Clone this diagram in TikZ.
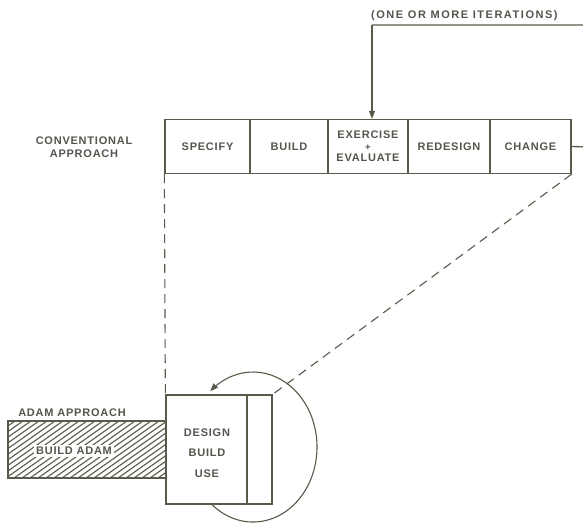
\documentclass[tikz,border=0pt]{standalone}
\usepackage{fontspec}
\setmainfont{Liberation Sans}[LetterSpace=7]
\newfontfamily\widefont{Liberation Sans}[LetterSpace=14]
\usetikzlibrary{arrows.meta}
\definecolor{ink}{HTML}{5A5A4A}
\definecolor{txt}{HTML}{55554D}
\tikzset{
  lbl/.style={font=\bfseries\fontsize{11}{12.5}\selectfont, text=txt, inner sep=0pt, align=center},
  stage/.style={lbl, draw=ink, line width=1.3pt, minimum height=54pt},
  plain/.style={draw=ink, line width=1.3pt},
  dashline/.style={draw=ink, line width=1.1pt, dash pattern=on 9pt off 6pt},
  tip/.style={-{Triangle[width=6pt,length=8pt]}}
}
\begin{document}
\begin{tikzpicture}[x=1pt,y=-1pt]
\useasboundingbox (0,0) rectangle (583,523);
\clip (0,0) rectangle (583,523);
\fill[white] (0,0) rectangle (583,523);

% conventional row
\node[lbl] (conv) at (84,147) {CONVENTIONAL\\APPROACH};
\node[stage, minimum width=85pt] (spec) at (207.5,146.5) {SPECIFY};
\node[stage, minimum width=78pt] (build) at (289,146.5) {BUILD};
\node[stage, minimum width=80pt, font=\bfseries\fontsize{11}{11.5}\selectfont] (exer) at (368,146.5) {EXERCISE\\{\fontsize{9.5}{9}\selectfont +}\\EVALUATE};
\node[stage, minimum width=82pt] (redes) at (449,146.5) {REDESIGN};
\node[stage, minimum width=81pt] (change) at (530.5,146.5) {CHANGE};

% feedback loop
\node[lbl, font=\widefont\bfseries\fontsize{11}{12}\selectfont, anchor=west] (iter) at (371,16) {(ONE OR MORE ITERATIONS)};
\coordinate (loopR) at (592,147);
\coordinate (loopT) at (372,25);
\draw[plain] (change.east) -- (loopR) |- (loopT);
\draw[plain, tip] (loopT) -- (loopT |- exer.north);

% lower part
\draw[ink, line width=1.1pt] (253,447) ++(131:64 and 75) coordinate (arcS)
  arc[start angle=131, end angle=-128, x radius=64, y radius=75];
\draw[ink, line width=1.1pt, tip] (253,447) ++(-128:64 and 75) arc[start angle=-128, end angle=-132, x radius=64, y radius=75];

\node[plain, fill=white, minimum width=106pt, minimum height=109pt, inner sep=0pt] (dbox) at (219,449.5) {};
\draw[plain] (247,0 |- dbox.north) coordinate (divT) -- (divT |- dbox.south);
\node[lbl, font=\bfseries\fontsize{11}{20.5}\selectfont] (dtext) at (207,453) {DESIGN\\BUILD\\USE};

\node[plain, minimum width=158pt, minimum height=57pt, inner sep=0pt] (hbox) at (87,449.5) {};
\begin{scope}
  \clip (hbox.south west) rectangle (hbox.north east);
  \foreach \i in {-90,-82,...,180} {
    \draw[ink, line width=1.1pt] (\i,478) -- ++(81,-57);
  }
\end{scope}
\node[plain] at (87,449.5) [minimum width=158pt, minimum height=57pt, inner sep=0pt] {};
\node[lbl, fill=white, inner sep=2pt] (bada) at (74,451) {BUILD ADAM};
\node[lbl] (adap) at (72,413) {ADAM APPROACH};

% dashed projection lines
\draw[dashline] (spec.south west) -- (dbox.north west);
\draw[dashline] (change.south east) -- (dbox.north east);
\end{tikzpicture}
\end{document}
